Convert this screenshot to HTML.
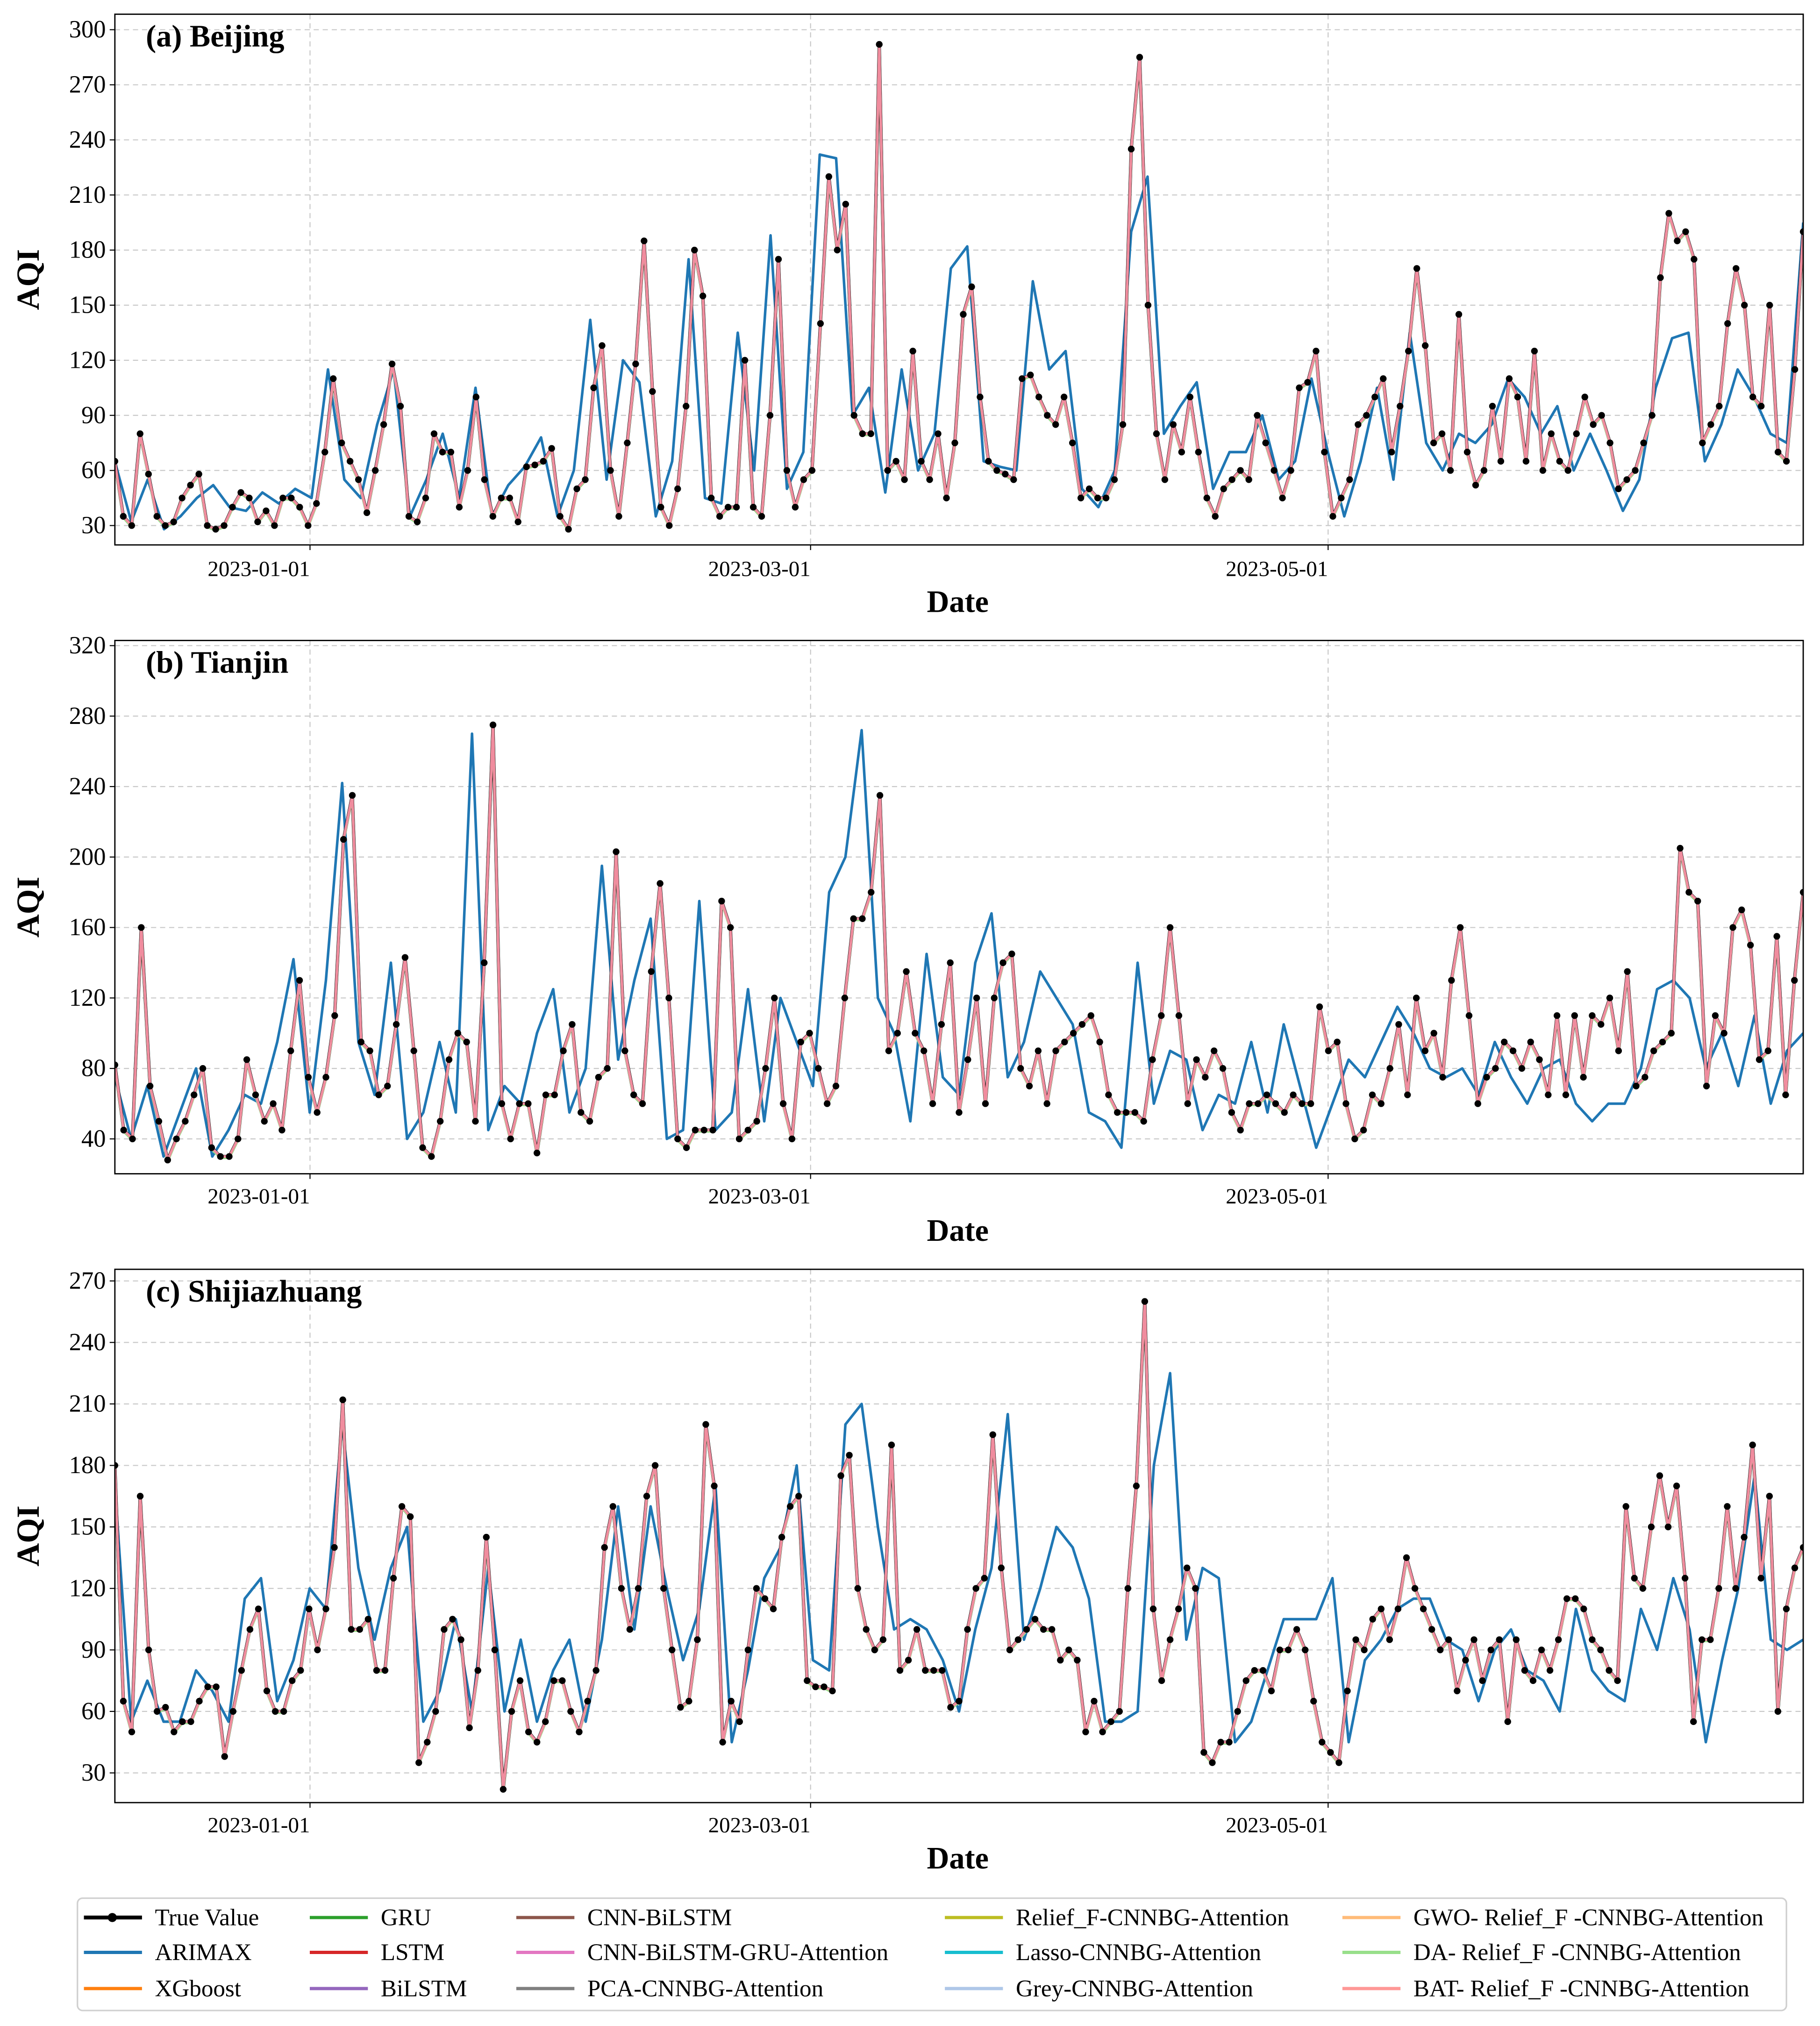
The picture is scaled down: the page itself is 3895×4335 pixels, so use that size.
<!DOCTYPE html>
<html><head><meta charset="utf-8">
<style>
html,body{margin:0;padding:0;background:#fff;}
svg{display:block;font-family:"Liberation Serif",serif;}
</style></head>
<body>
<svg id="chart" width="3895" height="4335" viewBox="0 0 1410 1569" preserveAspectRatio="none" xmlns="http://www.w3.org/2000/svg">
<rect x="0" y="0" width="1410" height="1569" fill="#fff"/>
</svg>
<script>
// ---------- data ----------
const bjTrue=[65,35,30,80,58,35,30,32,45,52,58,30,28,30,40,48,45,32,38,30,45,45,40,30,42,70,110,75,65,55,37,60,85,118,95,35,32,45,80,70,70,40,60,100,55,35,45,45,32,62,63,65,72,35,28,50,55,105,128,60,35,75,118,185,103,40,30,50,95,180,155,45,35,40,40,120,40,35,90,175,60,40,55,60,140,220,180,205,90,80,80,292,60,65,55,125,65,55,80,45,75,145,160,100,65,60,58,55,110,112,100,90,85,100,75,45,50,45,45,55,85,235,285,150,80,55,85,70,100,70,45,35,50,55,60,55,90,75,60,45,60,105,108,125,70,35,45,55,85,90,100,110,70,95,125,170,128,75,80,60,145,70,52,60,95,65,110,100,65,125,60,80,65,60,80,100,85,90,75,50,55,60,75,90,165,200,185,190,175,75,85,95,140,170,150,100,95,150,70,65,115,190];
const bjArimax=[65,32,55,28,35,45,52,40,38,48,42,50,45,115,55,45,85,115,35,55,80,45,105,35,52,62,78,35,60,142,55,120,108,35,65,175,45,42,135,60,188,50,70,232,230,90,105,48,115,60,80,170,182,65,62,60,163,115,125,50,40,60,190,220,80,95,108,50,70,70,90,55,65,110,70,35,65,105,55,135,75,60,80,75,85,110,100,80,95,60,80,60,38,55,105,132,135,65,85,115,100,80,75,195];
const tjTrue=[82,45,40,160,70,50,28,40,50,65,80,35,30,30,40,85,65,50,60,45,90,130,75,55,75,110,210,235,95,90,65,70,105,143,90,35,30,50,85,100,95,50,140,275,60,40,60,60,32,65,65,90,105,55,50,75,80,203,90,65,60,135,185,120,40,35,45,45,45,175,160,40,45,50,80,120,60,40,95,100,80,60,70,120,165,165,180,235,90,100,135,100,90,60,105,140,55,85,120,60,120,140,145,80,70,90,60,90,95,100,105,110,95,65,55,55,55,50,85,110,160,110,60,85,75,90,80,55,45,60,60,65,60,55,65,60,60,115,90,95,60,40,45,65,60,80,105,65,120,90,100,75,130,160,110,60,75,80,95,90,80,95,85,65,110,65,110,75,110,105,120,90,135,70,75,90,95,100,205,180,175,70,110,100,160,170,150,85,90,155,65,130,180];
const tjArimax=[75,40,70,30,55,80,30,45,65,60,95,142,55,130,242,95,65,140,40,55,95,55,270,45,70,60,100,125,55,80,195,85,130,165,40,45,175,45,55,125,50,120,95,70,180,200,272,120,100,50,145,75,65,140,168,75,95,135,120,105,55,50,35,140,60,90,85,45,65,60,95,55,105,70,35,60,85,75,95,115,100,80,75,80,65,95,75,60,80,85,60,50,60,60,80,125,130,120,80,100,70,110,60,90,100];
const sjTrue=[180,65,50,165,90,60,62,50,55,55,65,72,72,38,60,80,100,110,70,60,60,75,80,110,90,110,140,212,100,100,105,80,80,125,160,155,35,45,60,100,105,95,52,80,145,90,22,60,75,50,45,55,75,75,60,50,65,80,140,160,120,100,120,165,180,120,90,62,65,95,200,170,45,65,55,90,120,115,110,145,160,165,75,72,72,70,175,185,120,100,90,95,190,80,85,100,80,80,80,62,65,100,120,125,195,130,90,95,100,105,100,100,85,90,85,50,65,50,55,60,120,170,260,110,75,95,110,130,120,40,35,45,45,60,75,80,80,70,90,90,100,90,65,45,40,35,70,95,90,105,110,95,110,135,120,110,100,90,95,70,85,95,75,90,95,55,95,80,75,90,80,95,115,115,110,95,90,80,75,160,125,120,150,175,150,170,125,55,95,95,120,160,120,145,190,125,165,60,110,130,140];
const sjArimax=[170,55,75,55,55,80,70,55,115,125,65,85,120,110,200,130,95,130,150,55,70,105,60,130,60,95,55,80,95,55,95,160,100,160,120,85,110,170,45,80,125,140,180,85,80,200,210,150,100,105,100,85,60,100,130,205,95,120,150,140,115,55,55,60,180,225,95,130,125,45,55,80,105,105,105,125,45,85,95,110,115,115,95,90,65,90,100,80,75,60,110,80,70,65,110,90,125,100,45,85,120,175,95,90,95];
const xTickLabels=["2023-01-01","2023-03-01","2023-05-01"];
const xTickDays=[23,82,143];
const bjTicks=[30,60,90,120,150,180,210,240,270,300];
const tjTicks=[40,80,120,160,200,240,280,320];
const sjTicks=[30,60,90,120,150,180,210,240,270];
const legendNames=["True Value","ARIMAX","XGboost","GRU","LSTM","BiLSTM","CNN-BiLSTM","CNN-BiLSTM-GRU-Attention","PCA-CNNBG-Attention","Relief_F-CNNBG-Attention","Lasso-CNNBG-Attention","Grey-CNNBG-Attention","GWO- Relief_F -CNNBG-Attention","DA- Relief_F -CNNBG-Attention","BAT- Relief_F -CNNBG-Attention"];
const legendColors=["#000","#1f77b4","#ff7f0e","#2ca02c","#d62728","#9467bd","#8c564b","#e377c2","#7f7f7f","#bcbd22","#17becf","#aec7e8","#ffbb78","#98df8a","#ff9896"];

// ---------- drawing ----------
const NS="http://www.w3.org/2000/svg";
const svg=document.getElementById('chart');
function mk(tag,attrs,parent){const e=document.createElementNS(NS,tag);for(const k in attrs)e.setAttribute(k,attrs[k]);(parent||svg).appendChild(e);return e;}
const X0=89,X1=1397,DAYS=199;
function xDay(d){return X0+d*(X1-X0)/DAYS;}
function xIdx(i,n){return X0+i*(X1-X0)/(n-1);}

const panels=[
 {key:'beijing',title:'(a) Beijing',top:11,bot:422,vmin:30,vmax:300,ymin:407,ymax:23,ticks:bjTicks,truth:bjTrue,arimax:bjArimax,dateY:440,labelY:466},
 {key:'tianjin',title:'(b) Tianjin',top:496,bot:909,vmin:40,vmax:320,ymin:882,ymax:500,ticks:tjTicks,truth:tjTrue,arimax:tjArimax,dateY:926,labelY:953},
 {key:'shijiazhuang',title:'(c) Shijiazhuang',top:983,bot:1396,vmin:30,vmax:270,ymin:1373,ymax:992,ticks:sjTicks,truth:sjTrue,arimax:sjArimax,dateY:1413,labelY:1439}
];

function pathFor(arr,yS){let d='';arr.forEach((v,i)=>{d+=(i?'L':'M')+xIdx(i,arr.length).toFixed(2)+' '+yS(v).toFixed(2);});return d;}

panels.forEach(p=>{
 const g=mk('g',{});
 
 
 const yS=v=>p.ymin+(v-p.vmin)*(p.ymax-p.ymin)/(p.vmax-p.vmin);
 const clipId='clip-'+p.key;
 const cp=mk('clipPath',{id:clipId},g);mk('rect',{x:X0,y:p.top,width:X1-X0,height:p.bot-p.top},cp);
 p.ticks.forEach(t=>{
  const l=mk('line',{x1:X0,x2:X1,y1:yS(t),y2:yS(t),stroke:'#c8c8c8','stroke-width':0.8,'stroke-dasharray':'4 3'},g);
  
  
  mk('line',{x1:X0-4,x2:X0,y1:yS(t),y2:yS(t),stroke:'#000','stroke-width':0.8},g);
  const tx=mk('text',{x:X0-7,y:yS(t)+6,'text-anchor':'end','font-size':19},g);tx.textContent=t;
  
  
 });
 xTickDays.forEach((d,i)=>{
  const l=mk('line',{x1:xDay(d),x2:xDay(d),y1:p.top,y2:p.bot,stroke:'#c8c8c8','stroke-width':0.8,'stroke-dasharray':'4 3'},g);
  
  
  mk('line',{x1:xDay(d),x2:xDay(d),y1:p.bot,y2:p.bot+4,stroke:'#000','stroke-width':0.8},g);
  const tx=mk('text',{x:xDay(d),y:p.dateY+6,'text-anchor':'end','font-size':17},g);tx.textContent=xTickLabels[i];
  
  
 });
 const cg=mk('g',{'clip-path':'url(#'+clipId+')'},g);
 const a=mk('path',{d:pathFor(p.arimax,yS),fill:'none',stroke:'#1f77b4','stroke-width':2,'stroke-linejoin':'round'},cg);
 
 
 const t=mk('path',{d:pathFor(p.truth,yS),fill:'none',stroke:'#000','stroke-width':2.5,'stroke-linejoin':'round'},cg);
 
 
 const gl=mk('path',{d:pathFor(p.truth,yS),fill:'none',stroke:'#98df8a','stroke-width':2,'stroke-linejoin':'round',transform:'translate(0,1)'},cg);
 
 
 const m=mk('path',{d:pathFor(p.truth,yS),fill:'none',stroke:'#f08c9e','stroke-width':2,'stroke-linejoin':'round'},cg);
 
 
 p.truth.forEach((v,i)=>{
  const c=mk('circle',{cx:xIdx(i,p.truth.length),cy:yS(v),r:2.6,fill:'#000'},cg);
  
  
 });
 const fr=mk('rect',{x:X0,y:p.top,width:X1-X0,height:p.bot-p.top,fill:'none',stroke:'#000','stroke-width':1},g);
 
 
 const ti=mk('text',{x:113,y:p.top+25,'font-size':24,'font-weight':'bold'},g);ti.textContent=p.title;
 
 
 const yl=mk('text',{x:0,y:0,'font-size':25,'font-weight':'bold','text-anchor':'middle',transform:'translate(30,'+((p.top+p.bot)/2)+') rotate(-90)'},g);yl.textContent='AQI';
 
 
 const xl=mk('text',{x:742,y:p.labelY+8,'font-size':24,'font-weight':'bold','text-anchor':'middle'},g);xl.textContent='Date';
 
 
});

// legend
const lg=mk('g',{});


mk('rect',{x:60,y:1470,width:1324,height:87,rx:4,fill:'#fff',stroke:'#d0d0d0','stroke-width':1.2},lg);
const colX=[65,240,400,732,1040];
const rowY=[1485,1512,1540];
legendNames.forEach((n,i)=>{
 const c=Math.floor(i/3),r=i%3;
 const e=mk('g',{},lg);
 
 
 mk('line',{x1:colX[c],x2:colX[c]+45,y1:rowY[r],y2:rowY[r],stroke:legendColors[i],'stroke-width':i===0?3:2.5},e);
 if(i===0)mk('circle',{cx:colX[c]+22,cy:rowY[r],r:3.5,fill:'#000'},e);
 const t=mk('text',{x:colX[c]+55,y:rowY[r]+6,'font-size':18.5},e);t.textContent=n;
});
</script>
</body></html>
